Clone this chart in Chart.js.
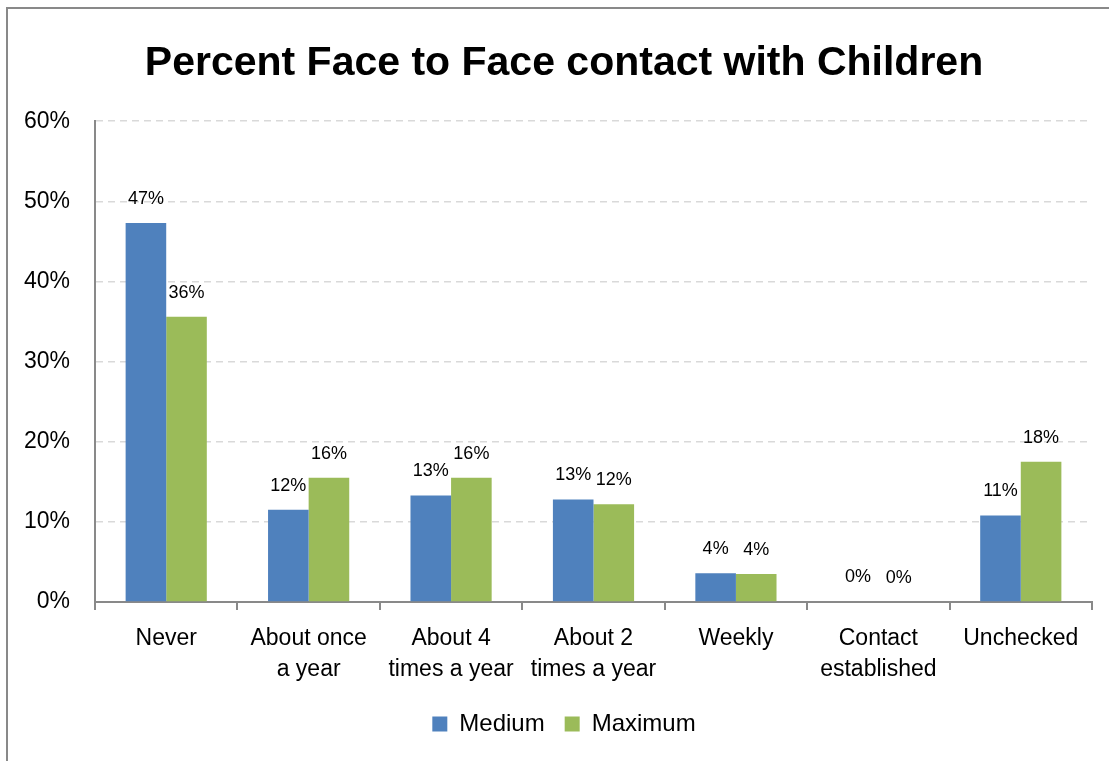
<!DOCTYPE html>
<html>
<head>
<meta charset="utf-8">
<title>Percent Face to Face contact with Children</title>
<script src="https://cdn.jsdelivr.net/npm/chart.js@4.4.1/dist/chart.umd.min.js"></script>
<style>
  html, body { margin: 0; padding: 0; background: #fff; }
  #wrap { position: relative; width: 1109px; height: 761px; }
</style>
</head>
<body>
<div id="wrap"><canvas id="contactChart" width="1109" height="761"></canvas></div>
<script>
// Categories and series (percent)
const categories = [
    'Never',
    ['About once', 'a year'],
    ['About 4', 'times a year'],
    ['About 2', 'times a year'],
    'Weekly',
    ['Contact', 'established'],
    'Unchecked'
];
const mediumValues = [47.3, 11.5, 13.3, 12.8, 3.6, 0.1, 10.8];
const maximumValues = [35.6, 15.5, 15.5, 12.2, 3.5, 0, 17.5];
const yMin = 0, yMax = 60, yStep = 10;

const colors = {
    medium: '#4f81bd',
    maximum: '#9bbb59',
    axis: '#898989',
    grid: '#d9d9d9'
};
const font = "'Liberation Sans', Arial, sans-serif";

// Outer frame of the chart (left and top edge only are in view)
const framePlugin = {
    id: 'frame',
    beforeDraw(chart) {
        const ctx = chart.ctx;
        ctx.save();
        ctx.strokeStyle = colors.axis;
        ctx.lineWidth = 2;
        ctx.beginPath();
        ctx.moveTo(7, chart.height + 5);
        ctx.lineTo(7, 8);
        ctx.lineTo(chart.width + 5, 8);
        ctx.stroke();
        ctx.restore();
    }
};

// Value labels above each bar
const valueLabels = {
    id: 'valueLabels',
    afterDatasetsDraw(chart) {
        const ctx = chart.ctx;
        ctx.save();
        ctx.font = "18px " + font;
        ctx.fillStyle = '#000';
        ctx.textAlign = 'center';
        ctx.textBaseline = 'middle';
        chart.data.datasets.forEach((ds, i) => {
            const meta = chart.getDatasetMeta(i);
            meta.data.forEach((bar, j) => {
                ctx.fillText(Math.round(ds.data[j]) + '%', bar.x, bar.y - 24);
            });
        });
        ctx.restore();
    }
};

new Chart(document.getElementById('contactChart').getContext('2d'), {
    type: 'bar',
    data: {
        labels: categories,
        datasets: [
            {
                label: 'Medium',
                data: mediumValues,
                backgroundColor: colors.medium,
                barPercentage: 1,
                categoryPercentage: 0.57
            },
            {
                label: 'Maximum',
                data: maximumValues,
                backgroundColor: colors.maximum,
                barPercentage: 1,
                categoryPercentage: 0.57
            }
        ]
    },
    options: {
        responsive: false,
        animation: false,
        layout: { padding: { left: 19, right: 0, top: 0, bottom: 15 } },
        plugins: {
            title: {
                display: true,
                text: 'Percent Face to Face contact with Children',
                color: '#000',
                font: { family: font, size: 41, weight: 'bold' },
                padding: { top: 39, bottom: 33 }
            },
            legend: {
                position: 'bottom',
                labels: {
                    color: '#000',
                    boxWidth: 15,
                    boxHeight: 15,
                    padding: 20,
                    font: { family: font, size: 24 }
                }
            },
            tooltip: { enabled: false }
        },
        scales: {
            x: {
                afterFit(scale) { scale.height = 90; },
                border: { color: colors.axis, width: 2 },
                grid: {
                    offset: true,
                    drawOnChartArea: false,
                    drawTicks: true,
                    tickLength: 8,
                    color: colors.axis,
                    lineWidth: 2
                },
                ticks: {
                    color: '#000',
                    padding: 13,
                    maxRotation: 0,
                    autoSkip: false,
                    font: { family: font, size: 23, lineHeight: 1.35 }
                }
            },
            y: {
                min: yMin,
                max: yMax,
                afterFit(scale) { scale.width = 76; },
                border: { color: colors.axis, width: 2, dash: [7, 5] },
                grid: {
                    color: colors.grid,
                    lineWidth: 1.5,
                    drawTicks: false
                },
                ticks: {
                    stepSize: yStep,
                    color: '#000',
                    padding: 25,
                    font: { family: font, size: 23 },
                    callback: v => v + '%'
                }
            },
            // empty strip on the right so the plot ends short of the edge
            gutter: {
                type: 'linear',
                position: 'right',
                afterFit(scale) { scale.width = 17; },
                grid: { display: false, drawTicks: false },
                border: { display: false },
                ticks: { display: false }
            }
        }
    },
    plugins: [framePlugin, valueLabels]
});
</script>
</body>
</html>
